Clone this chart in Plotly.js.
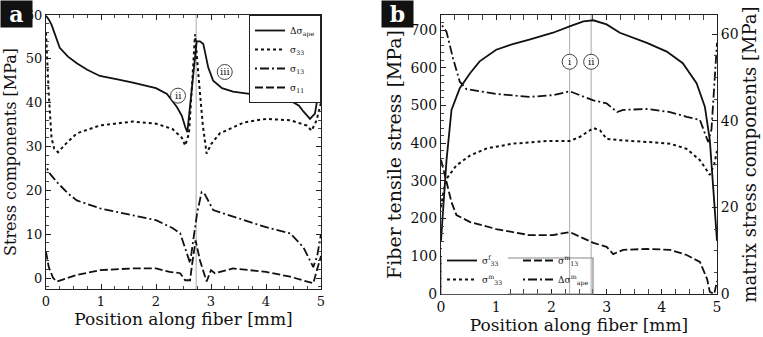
<!DOCTYPE html>
<html>
<head>
<meta charset="utf-8">
<script src="https://cdn.plot.ly/plotly-3.0.1.min.js"></script>
<style>
  html, body { margin: 0; padding: 0; background: #fff; }
  #chart { width: 763px; height: 337px; }
</style>
</head>
<body>
<div id="chart"></div>
<script>
// ---- panel a: stress components along the fiber ----
var aDseX = [0, 0.05, 0.1, 0.16, 0.25, 0.4, 0.56, 0.75, 0.98, 1.3, 1.58, 2.0, 2.2, 2.38, 2.47, 2.53, 2.57, 2.65, 2.74, 2.8, 2.86, 2.95, 3.04, 3.2, 3.4, 3.7, 4.0, 4.44, 4.6, 4.68, 4.8, 4.89, 4.95, 5.0];
var aDseY = [59.8, 59, 57.8, 55.7, 52.5, 50.5, 49, 47.5, 46.1, 45.3, 44.6, 43.3, 42, 39, 37, 34.5, 33.3, 43, 54, 54, 53.4, 48, 45, 43.3, 42.5, 42, 41.6, 40.5, 39.3, 38, 36.3, 37.5, 42, 50];

var aS33X = [0, 0.05, 0.1, 0.15, 0.22, 0.35, 0.56, 0.98, 1.58, 2.0, 2.3, 2.47, 2.53, 2.6, 2.66, 2.71, 2.78, 2.85, 2.92, 3.0, 3.16, 3.6, 4.0, 4.44, 4.74, 4.83, 4.92, 5.0];
var aS33Y = [56, 42, 32, 29.5, 28.7, 30.5, 33, 34.8, 35.7, 35.2, 34, 32, 30.2, 33, 45, 55.6, 45, 35, 28.4, 30.5, 33, 35.5, 36.3, 36, 34.8, 33.6, 36, 40];

var aS13X = [0.02, 0.07, 0.22, 0.4, 0.56, 0.98, 1.58, 2.0, 2.3, 2.44, 2.53, 2.62, 2.67, 2.75, 2.83, 2.88, 3.04, 3.4, 4.0, 4.44, 4.68, 4.86, 4.93, 5.0];
var aS13Y = [25, 23.8, 21.6, 19.3, 17.7, 15.9, 14.3, 13.2, 11.4, 10.2, 6.8, 3.4, 8, 15, 19.6, 19.3, 15.5, 14, 11.6, 10.2, 7, 2.5, 5, 10];

var aS11X = [0, 0.05, 0.13, 0.2, 0.56, 0.98, 1.58, 2.0, 2.25, 2.44, 2.53, 2.62, 2.65, 2.72, 2.8, 2.92, 3.0, 3.07, 3.4, 4.0, 4.44, 4.86, 4.93, 5.0];
var aS11Y = [6, 2.5, 0, -0.8, 0.7, 1.8, 2.2, 2.2, 1.4, 1.1, -0.5, -0.5, 2.6, 8.6, 4, -0.8, 1.8, 1.1, 2.2, 1.4, 0.3, -1.2, 2, 5];

// ---- panel b: fiber (left axis) and matrix (right axis) stresses ----
var bF33X = [0, 0.1, 0.19, 0.34, 0.53, 0.7, 1.0, 1.3, 1.6, 2.03, 2.33, 2.58, 2.76, 3.0, 3.24, 3.5, 3.73, 4.09, 4.38, 4.63, 4.78, 4.87, 4.93, 5.0];
var bF33Y = [141, 355, 488, 546, 586, 617, 648, 663, 675, 693, 710, 723, 726, 715, 693, 678, 666, 643, 612, 559, 497, 408, 292, 141];

var bM13X = [0, 0.1, 0.19, 0.28, 0.53, 1.0, 1.6, 2.03, 2.33, 2.52, 2.76, 3.0, 3.12, 3.3, 3.73, 4.15, 4.45, 4.69, 4.82, 4.87, 4.95, 5.0];
var bM13Y = [31, 26, 21.2, 18.2, 16.6, 15, 13.6, 13.6, 14.3, 13.2, 11.8, 10.9, 9.2, 10.2, 10.4, 10.2, 9, 7.4, 3.5, 0.5, 0, 3];

var bM33X = [0, 0.05, 0.1, 0.28, 0.53, 0.83, 1.3, 1.91, 2.33, 2.52, 2.76, 2.88, 3.0, 3.24, 3.73, 4.15, 4.45, 4.69, 4.87, 4.95, 5.0];
var bM33Y = [20, 24, 26.6, 29.7, 32, 33.6, 34.7, 35.3, 35.3, 36.3, 38.3, 37.8, 35.8, 35.5, 35.1, 34.7, 33.5, 30.9, 27.5, 30, 33];

var bDseX = [0.02, 0.1, 0.22, 0.34, 0.46, 1.0, 1.6, 2.03, 2.33, 2.52, 2.76, 3.0, 3.19, 3.3, 3.73, 4.15, 4.45, 4.69, 4.84, 4.9, 4.95, 5.0];
var bDseY = [62, 60.5, 54.3, 49, 47.3, 46.2, 45.5, 45.9, 46.8, 45.9, 44.7, 44, 42, 42.5, 42.7, 42, 40.9, 40.2, 35.1, 38, 47, 58];

// reference lines and circled markers
var refLinesA = [2.73];
var refLinesB = [2.33, 2.72];
var calloutLabelsA = ["ii", "iii"];
var calloutXA = [2.4, 3.25];
var calloutYA = [41.6, 47];
var calloutLabelsB = ["i", "ii"];
var calloutXB = [2.33, 2.72];
var calloutYB = [616, 616];

var serif = "'DejaVu Serif'";

function line(x, y, name, dash, width, xa, ya, legend) {
  return {
    x: x, y: y, name: name, type: "scatter", mode: "lines",
    xaxis: xa, yaxis: ya, legend: legend,
    line: { color: "#111", width: width, dash: dash },
  };
}

var data = [
  line(aDseX, aDseY, "Δσ<sub>ape</sub>", "solid", 1.8, "x", "y", "legend"),
  line(aS33X, aS33Y, "σ<sub>33</sub>", "3px,3px", 2, "x", "y", "legend"),
  line(aS13X, aS13Y, "σ<sub>13</sub>", "2px,3px,9px,3px", 1.8, "x", "y", "legend"),
  line(aS11X, aS11Y, "σ<sub>11</sub>", "8px,3px", 1.8, "x", "y", "legend"),

  line(bF33X, bF33Y, "σ<sup>f</sup><sub>33</sub>", "solid", 1.8, "x2", "y2", "legend2"),
  line(bM33X, bM33Y, "σ<sup>m</sup><sub>33</sub>", "3px,3px", 2, "x2", "y3", "legend2"),
  line(bM13X, bM13Y, "σ<sup>m</sup><sub>13</sub>", "8px,3px", 1.8, "x2", "y3", "legend3"),
  line(bDseX, bDseY, "Δσ<sup>m</sup><sub>ape</sub>", "2px,3px,9px,3px", 1.8, "x2", "y3", "legend3"),
];

function xAxis(domain, anchor, fs) {
  return {
    domain: domain, anchor: anchor, range: [0, 5], dtick: 1,
    showline: true, linecolor: "#222", linewidth: 1, mirror: "allticks",
    ticks: "inside", ticklen: 5, tickcolor: "#222",
    minor: { dtick: 0.25, ticks: "inside", ticklen: 3, tickcolor: "#444" },
    showgrid: false, zeroline: false,
    tickfont: { size: fs },
    title: { text: "Position along fiber [mm]", font: { size: 17 }, standoff: 2 },
  };
}

var shapes = [];
var annotations = [];

refLinesA.forEach(function (v) {
  shapes.push({ type: "line", xref: "x", yref: "y domain", x0: v, x1: v, y0: 0, y1: 1,
    line: { color: "#aaa", width: 1 }, layer: "below" });
});
refLinesB.forEach(function (v) {
  shapes.push({ type: "line", xref: "x2", yref: "y2 domain", x0: v, x1: v, y0: 0, y1: 1,
    line: { color: "#aaa", width: 1 }, layer: "below" });
});

function callout(label, x, y, xr, yr) {
  shapes.push({ type: "circle", xref: xr, yref: yr, xsizemode: "pixel", ysizemode: "pixel",
    xanchor: x, yanchor: y, x0: -7.5, x1: 7.5, y0: -7.5, y1: 7.5,
    line: { color: "#444", width: 1 }, fillcolor: "#fff" });
  annotations.push({ xref: xr, yref: yr, x: x, y: y, text: label, showarrow: false,
    font: { size: 10, family: serif, color: "#222" } });
}
calloutLabelsA.forEach(function (l, i) { callout(l, calloutXA[i], calloutYA[i], "x", "y"); });
calloutLabelsB.forEach(function (l, i) { callout(l, calloutXB[i], calloutYB[i], "x2", "y2"); });

// panel letters
[["a", 0, 1], ["b", 381 / 763, 1]].forEach(function (p) {
  annotations.push({ xref: "paper", yref: "paper", x: p[1], y: p[2], xanchor: "left", yanchor: "top",
    text: "<b>" + p[0] + "</b>", showarrow: false, bgcolor: "#111", width: 29, height: 24,
    font: { size: 22, color: "#fff", family: serif } });
});

// frame round the two-column legend of panel b
shapes.push({ type: "rect", xref: "paper", yref: "paper", x0: 442 / 763, x1: 593 / 763,
  y0: 43 / 337, y1: 79 / 337, line: { color: "#888", width: 1.2 }, layer: "above" });

var layout = {
  width: 763, height: 337,
  margin: { l: 0, r: 0, t: 0, b: 0 },
  paper_bgcolor: "#fff", plot_bgcolor: "#fff",
  font: { family: serif, color: "#111", size: 14 },
  showlegend: true,
  xaxis: xAxis([46 / 763, 321 / 763], "y", 13),
  yaxis: {
    domain: [48 / 337, 322 / 337], anchor: "x", range: [-2.5, 60], dtick: 10,
    showline: true, linecolor: "#222", linewidth: 1, mirror: "allticks",
    ticks: "inside", ticklen: 5, tickcolor: "#222",
    minor: { dtick: 2, ticks: "inside", ticklen: 3, tickcolor: "#444" },
    showgrid: false, zeroline: false, tickfont: { size: 13 },
    title: { text: "Stress components [MPa]", font: { size: 16 }, standoff: 5 },
  },
  xaxis2: xAxis([441 / 763, 717 / 763], "y2", 14),
  yaxis2: {
    domain: [43 / 337, 322 / 337], anchor: "x2", range: [0, 740], dtick: 100,
    showline: true, linecolor: "#222", linewidth: 1,
    ticks: "inside", ticklen: 5, tickcolor: "#222",
    minor: { dtick: 20, ticks: "inside", ticklen: 3, tickcolor: "#444" },
    showgrid: false, zeroline: false, tickfont: { size: 14 },
    title: { text: "Fiber tensile stress [MPa]", font: { size: 19 }, standoff: 3 },
  },
  yaxis3: {
    overlaying: "y2", anchor: "x2", side: "right", range: [0, 64.4], dtick: 20,
    showline: true, linecolor: "#222", linewidth: 1,
    ticks: "inside", ticklen: 5, tickcolor: "#222",
    minor: { dtick: 5, ticks: "inside", ticklen: 3, tickcolor: "#444" },
    showgrid: false, zeroline: false, tickfont: { size: 14 },
    title: { text: "matrix stress components [MPa]", font: { size: 18 }, standoff: 3 },
  },
  legend: {
    x: 321 / 763, xanchor: "right", y: 322 / 337, yanchor: "top",
    bgcolor: "#fff", bordercolor: "#222", borderwidth: 1,
    font: { size: 9 }, tracegroupgap: 0, itemwidth: 30,
  },
  legend2: {
    x: 442 / 763, xanchor: "left", y: 43 / 337, yanchor: "bottom",
    bgcolor: "#fff", borderwidth: 0, font: { size: 9 }, itemwidth: 30,
  },
  legend3: {
    x: 518 / 763, xanchor: "left", y: 43 / 337, yanchor: "bottom",
    bgcolor: "rgba(0,0,0,0)", borderwidth: 0, font: { size: 9 }, itemwidth: 30,
  },
  shapes: shapes,
  annotations: annotations,
};

Plotly.newPlot("chart", data, layout, { displayModeBar: false, staticPlot: true });
</script>
</body>
</html>
